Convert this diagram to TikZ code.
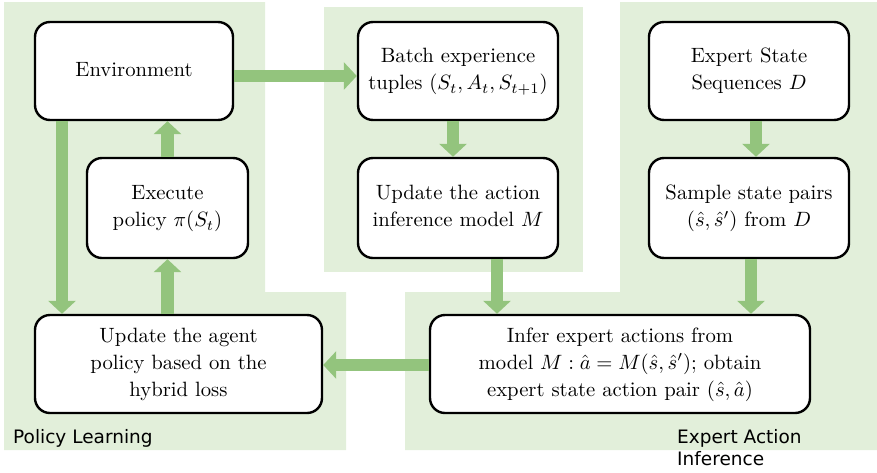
\documentclass[tikz,border=0pt]{standalone}
\usepackage{fontspec}
\usepackage{graphicx}
\newfontfamily\labelfont{DejaVu Sans}
\usetikzlibrary{arrows.meta,calc}
\definecolor{panelgreen}{RGB}{226,239,218}
\definecolor{flowgreen}{RGB}{147,196,125}
% step text: set at 10pt and enlarged, so the letters keep the 10pt design
\newcommand{\steptext}[1]{\scalebox{2.07}{\fontsize{10}{13.1}\selectfont
  \begin{tabular}{@{}c@{}}#1\end{tabular}}}
\tikzset{
  stepbox/.style={draw=black, line width=2.4pt, rounded corners=15pt, fill=white,
    align=center, inner sep=2pt},
  flow/.style={draw=flowgreen, line width=12.5pt,
    -{Triangle[width=27pt,length=13pt]}},
  panellabel/.style={anchor=base west, inner sep=0pt,
    font=\labelfont\fontsize{18.5}{22}\selectfont, align=left}
}
\begin{document}
\begin{tikzpicture}[x=1pt,y=-1pt]
\useasboundingbox (0,0) rectangle (877,472);

% shaded panels
\fill[panelgreen] (4,2) -- (265,2) -- (265,292) -- (346,292) -- (346,450) -- (4,450) -- cycle;
\fill[panelgreen] (324,7) rectangle (583,272);
\fill[panelgreen] (620,2) -- (877,2) -- (877,450) -- (405,450) -- (405,292) -- (620,292) -- cycle;

% process steps
\node[stepbox, minimum width=198pt, minimum height=98pt] (env) at (134,71) {\steptext{Environment}};
\node[stepbox, minimum width=161pt, minimum height=100pt] (exec) at (167.5,208) {\steptext{Execute\\policy $\pi(S_t)$}};
\node[stepbox, minimum width=287pt, minimum height=98pt] (agent) at (178.5,364) {\steptext{Update the agent\\policy based on the\\hybrid loss}};
\node[stepbox, minimum width=200pt, minimum height=98pt] (batch) at (458,71) {\steptext{Batch experience\\tuples $(S_t,A_t,S_{t+1})$}};
\node[stepbox, minimum width=200pt, minimum height=100pt] (updact) at (458,208) {\steptext{Update the action\\inference model $M$}};
\node[stepbox, minimum width=200pt, minimum height=98pt] (expert) at (749,71) {\steptext{Expert State\\Sequences $D$}};
\node[stepbox, minimum width=200pt, minimum height=100pt] (sample) at (749,208) {\steptext{Sample state pairs\\$(\hat{s},\hat{s}')$ from $D$}};
\node[stepbox, minimum width=380pt, minimum height=98pt] (infer) at (620,364) {\steptext{Infer expert actions from\\model $M:\hat{a}=M(\hat{s},\hat{s}')$; obtain\\expert state action pair $(\hat{s},\hat{a})$}};

% connectors
\draw[flow] ([yshift=-5pt]env.east) -- ([yshift=-5pt]batch.west);
\draw[flow] (exec.north) -- (exec.north |- env.south);
\coordinate (envL) at ([xshift=-72pt]env.south);
\draw[flow] (envL) -- (envL |- agent.north);
\draw[flow] (exec.south |- agent.north) -- (exec.south);
\coordinate (batchD) at ([xshift=-5pt]batch.south);
\draw[flow] (batchD) -- (batchD |- updact.north);
\coordinate (updactD) at ([xshift=39pt]updact.south);
\draw[flow] (updactD) -- (updactD |- infer.north);
\coordinate (expertD) at ([xshift=7pt]expert.south);
\draw[flow] (expertD) -- (expertD |- sample.north);
\coordinate (sampleD) at ([xshift=2pt]sample.south);
\draw[flow] (sampleD) -- (sampleD |- infer.north);
\draw[flow] ([yshift=-1pt]infer.west) -- ([yshift=-1pt]agent.east);

% panel captions
\node[panellabel] (plabel) at (13,443) {Policy Learning};
\node[panellabel] (elabel) at (677,465) {Expert Action\\Inference};
\end{tikzpicture}
\end{document}
